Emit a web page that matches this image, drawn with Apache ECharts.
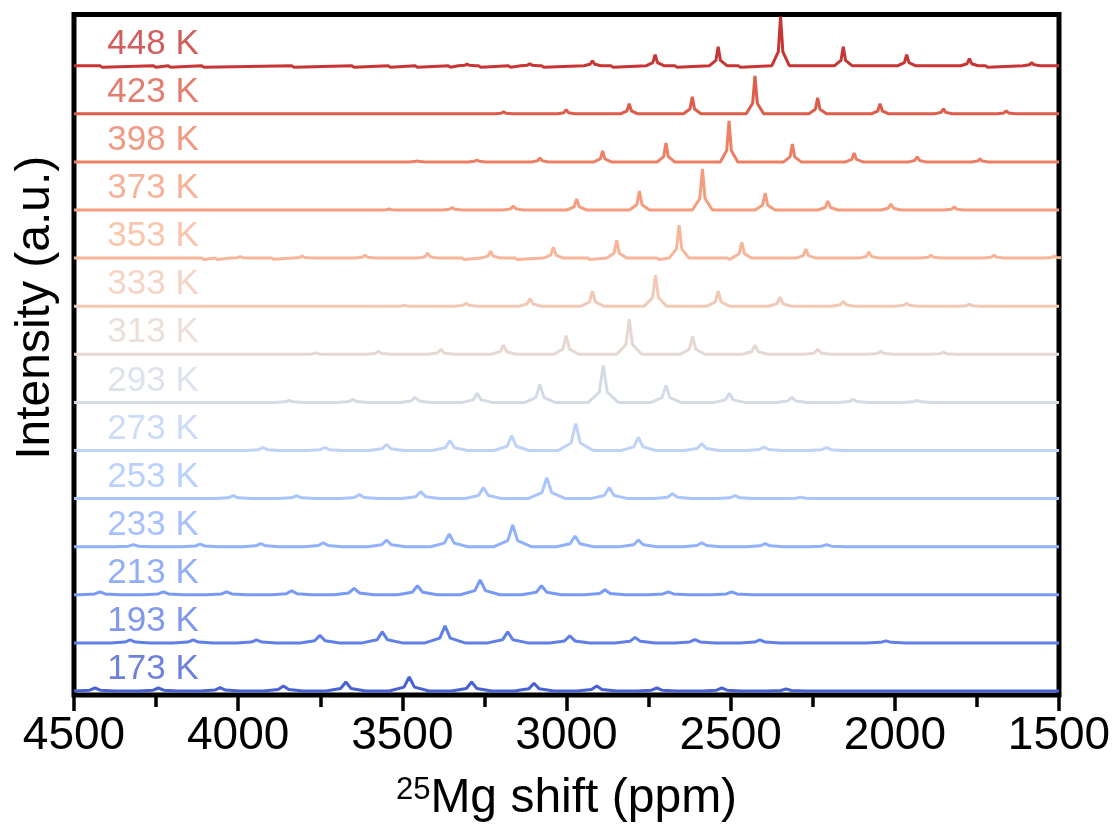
<!DOCTYPE html>
<html><head><meta charset="utf-8">
<script src="https://cdn.jsdelivr.net/npm/echarts/dist/echarts.min.js"></script>
<style>html,body{margin:0;padding:0;background:#fff}#c{width:1120px;height:833px}</style>
</head><body><div id="c"></div>
<script>
// ---- data (ppm, relative intensity) ----
const temps = ['173 K','193 K','213 K','233 K','253 K','273 K','293 K','313 K','333 K','353 K','373 K','398 K','423 K','448 K'];
const xTickLabels = [4500, 4000, 3500, 3000, 2500, 2000, 1500];

const peaks173 = [[4436,3],[4243,3],[4055,3.3],[3862,5],[3672,9],[3479,14],[3289,9],[3099,7.7],[2908,5],[2725,3],[2527,3],[2331,2]];
const peaks193 = [[4329,3],[4137,3],[3944,3],[3751,7.5],[3561,11],[3370,17],[3179,11],[2990,7],[2791,5.5],[2609,3.3],[2411,3],[2027,2]];
const peaks213 = [[4421,3],[4228,3],[4035,3],[3837,4],[3647,6.5],[3454,9],[3263,15],[3076,9],[2883,5],[2690,3],[2497,3]];
const peaks233 = [[4319,2],[4116,2.5],[3931,3],[3741,4],[3548,6.7],[3357,12.7],[3164,21.7],[2974,10.7],[2781,6.7],[2588,4],[2395,3],[2208,2]];
const peaks253 = [[4015,3],[3822,3],[3631,4],[3444,7],[3253,11],[3060,21],[2870,11],[2677,5],[2487,3],[2287,1.5]];
const peaks273 = [[3925,3],[3736,3],[3548,6],[3355,10],[3167,15],[2972,27],[2781,13],[2588,7],[2398,3.5],[2208,3]];
const peaks293 = [[3845,2],[3651,3],[3461,5],[3272,9],[3081,18],[2888,37],[2697,17],[2504,9],[2314,5],[2127,3],[1933,2]];
const peaks313 = [[3764,1.5],[3573,3],[3383,5],[3192,9],[3001,18.6],[2809,35],[2616,18],[2426,9],[2235,5],[2043,3],[1852,2]];
const peaks333 = [[3494,1],[3306,3],[3111,7.7],[2921,15],[2729,31],[2538,15],[2350,9],[2157,5],[1964,3],[1773,2]];
const peaks353 = [[4106,-1.5],[4065,-1.5],[3994,1.5],[3893,-1.2],[3805,2],[3614,3],[3423,5],[3314,-1.5],[3231,7],[3152,-1.5],[3040,11],[2930,-1.5],[2847,17.7],[2720,-1.5],[2657,33],[2505,-1.5],[2466,15.7],[2271,9],[2079,6],[1890,3],[1698,3],[1514,2]];
const peaks373 = [[3540,1],[3348,2.5],[3162,4],[2969,11],[2778,19],[2586,41],[2395,17],[2204,9],[2012,6],[1819,3]];
const peaks398 = [[3456,1],[3273,2],[3081,4],[2890,11],[2697,19],[2505,41],[2312,18],[2124,9],[1932,5],[1741,3]];
const peaks423 = [[3192,2],[3001,4],[2809,10],[2617,17],[2426,38],[2235,16],[2045,10],[1852,5],[1661,3]];
const peaks448 = [[4416,-1.5],[4253,-1.5],[4208,-1.5],[4106,-1.5],[3832,-1.5],[3649,-1.5],[3538,-1.5],[3456,-1.5],[3355,-1.5],[3303,1.5],[3263,-1.5],[3172,-1.5],[3112,2],[3071,-1.5],[2921,5],[2860,-1.5],[2730,11],[2665,-1.5],[2538,19],[2472,-1.5],[2348,49],[2157,19],[1964,11],[1773,7],[1719,-1.5],[1583,3]];

// ---- styles ----
const spectra = [peaks173,peaks193,peaks213,peaks233,peaks253,peaks273,peaks293,peaks313,peaks333,peaks353,peaks373,peaks398,peaks423,peaks448];
const colors = ['#4962d3','#6080e8','#779af7','#90b2fe','#a8c5fe','#bfd3f6','#d4dbe7','#e6d8d0','#f2c9b5','#f7b699','#f59d7e','#ec8064','#dd5d4b','#c73534'];
const widths = [16,16,16,15,15,14,12,10,9,8,8,7,7,7];
const STEP = 48.1, BASE = 4;
const FONT = "'Liberation Sans', Arial, Helvetica, sans-serif";

function build(peaks, w, off) {
  const pts = [[4500, 0], [1500, 0]];
  peaks.forEach(([p, h]) => {
    if (h > 0) pts.push([p - 3.8 * w, 0], [p - w, 0.28 * h], [p, h], [p + w, 0.28 * h], [p + 3.8 * w, 0]);
    else pts.push([p - 5, 0], [p - 2, h], [p + 2, h], [p + 5, 0]);
  });
  pts.sort((a, b) => b[0] - a[0]);
  return pts.map(([x, y]) => [x, y + off]);
}

const series = spectra.map((pk, i) => ({
  type: 'line', name: temps[i], showSymbol: false, symbol: 'none',
  data: build(pk, widths[i], BASE + i * STEP),
  lineStyle: { color: colors[i], width: 3 }, itemStyle: { color: colors[i] },
  silent: true, z: 2
}));
series.push({
  type: 'scatter', symbolSize: 1, silent: true, z: 3,
  itemStyle: { color: 'rgba(0,0,0,0)' },
  data: temps.map((t, i) => ({
    value: [4400, BASE + i * STEP + 21.5],
    label: { show: true, formatter: t, color: colors[i], fontSize: 35, fontFamily: FONT, position: 'right', distance: 0 }
  }))
});

const chart = echarts.init(document.getElementById('c'), null, { renderer: 'canvas' });
chart.setOption({
  animation: false,
  backgroundColor: '#fff',
  textStyle: { fontFamily: FONT },
  grid: { left: 74, right: 61, top: 14.5, bottom: 138, show: true, borderColor: '#000', borderWidth: 5, backgroundColor: 'transparent' },
  xAxis: {
    type: 'value', inverse: true, min: 1500, max: 4500, interval: 500,
    axisLine: { show: false },
    axisTick: { show: true, inside: false, length: 16, lineStyle: { color: '#000', width: 3.5 } },
    minorTick: { show: true, splitNumber: 2, length: 12, lineStyle: { color: '#000', width: 3.5 } },
    splitLine: { show: false },
    axisLabel: { fontSize: 46, color: '#000', margin: 18, fontFamily: FONT, showMinLabel: true, showMaxLabel: true,
      formatter: v => xTickLabels.indexOf(v) >= 0 ? String(v) : '' },
    name: '{sup|25}{n|Mg shift (ppm)}', nameLocation: 'middle', nameGap: 80,
    nameTextStyle: { rich: {
      sup: { fontSize: 31, lineHeight: 16, verticalAlign: 'top', color: '#000', fontFamily: FONT },
      n: { fontSize: 48, color: '#000', fontFamily: FONT }
    } }
  },
  yAxis: {
    type: 'value', min: 0, max: 680.5,
    axisLine: { show: false }, axisTick: { show: false }, axisLabel: { show: false }, splitLine: { show: false },
    name: 'Intensity (a.u.)', nameLocation: 'middle', nameGap: 14, nameRotate: 90,
    nameTextStyle: { fontSize: 48, color: '#000', fontFamily: FONT, padding: [0, 0, 0, 94] }
  },
  series: series
});
</script>
</body></html>
